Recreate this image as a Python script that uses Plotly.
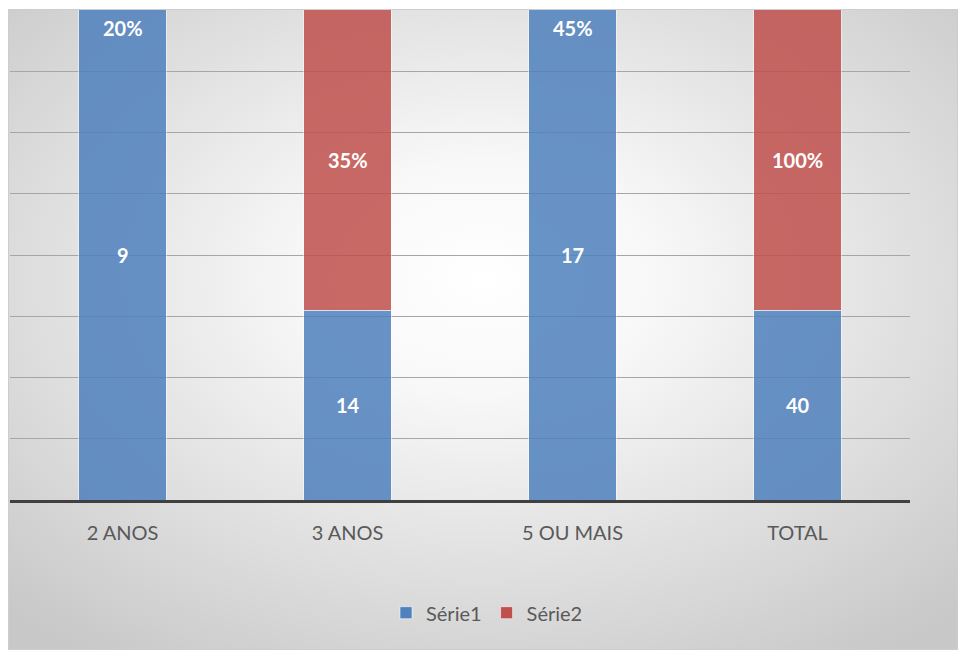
import base64
import plotly.graph_objects as go

# Categories and the labels printed on each segment
categories = ["2 ANOS", "3 ANOS", "5 OU MAIS", "TOTAL"]
serie1_labels = ["9", "14", "17", "40"]
serie2_labels = ["20%", "35%", "45%", "100%"]

# Segment heights on the value axis (axis shows 0..8 grid units)
serie1_height = [8.6, 3.1, 8.6, 3.1]
serie2_height = [1.0, 5.6, 1.0, 5.6]

Y_MAX = 8
LABEL_PAD = 0.3

BLUE = "#4F81BD"
RED = "#C0504D"
FONT = "Lato, 'Open Sans', sans-serif"


def label_positions(bottoms, heights):
    """Centre of the visible part of each segment; clipped segments sit just under the top."""
    out = []
    for b, h in zip(bottoms, heights):
        top = b + h
        if b >= Y_MAX:
            out.append(Y_MAX - LABEL_PAD)
        else:
            out.append((b + min(top, Y_MAX)) / 2)
    return out


zeros = [0] * len(categories)
serie1_label_y = label_positions(zeros, serie1_height)
serie2_label_y = label_positions(serie1_height, serie2_height)

# Radial grey background of the chart area
svg = """<svg xmlns='http://www.w3.org/2000/svg' width='950' height='641' preserveAspectRatio='none' viewBox='0 0 950 641'>
<defs><radialGradient id='g' cx='50%' cy='42%' r='72%' fx='50%' fy='42%'>
<stop offset='0' stop-color='rgb(255,255,255)'/>
<stop offset='0.25' stop-color='rgb(248,248,248)'/>
<stop offset='1' stop-color='rgb(200,200,200)'/>
</radialGradient></defs>
<rect x='0' y='0' width='950' height='641' fill='url(#g)'/>
<rect x='0.5' y='0.5' width='949' height='640' fill='none' stroke='rgb(205,205,205)' stroke-width='1'/>
</svg>"""
bg_src = "data:image/svg+xml;base64," + base64.b64encode(svg.encode()).decode()

fig = go.Figure()

bar_line = dict(color="rgba(255,255,255,0.55)", width=1)
fig.add_trace(go.Bar(
    x=categories, y=serie1_height, name="Série1",
    marker=dict(color=BLUE, opacity=0.85, line=bar_line),
))
fig.add_trace(go.Bar(
    x=categories, y=serie2_height, name="Série2",
    marker=dict(color=RED, opacity=0.85, line=bar_line),
))

label_font = dict(family=FONT, size=20, color="white", weight="bold")
for xs, ys, texts in ((categories, serie1_label_y, serie1_labels),
                      (categories, serie2_label_y, serie2_labels)):
    for cx, cy, t in zip(xs, ys, texts):
        fig.add_annotation(x=cx, y=cy, text=t, showarrow=False, font=label_font)

# plot area: x 10..910 px, y 10..500 px
fig.add_layout_image(dict(
    source=bg_src, xref="paper", yref="paper",
    x=-2 / 900, y=491 / 490, sizex=950 / 900, sizey=641 / 490,
    xanchor="left", yanchor="top", sizing="stretch", layer="below",
))

fig.update_layout(
    width=958, height=650,
    margin=dict(l=10, r=48, t=10, b=150),
    paper_bgcolor="white", plot_bgcolor="rgba(0,0,0,0)",
    barmode="stack", bargap=0.61,
    font=dict(family=FONT, color="#595959", size=20),
    legend=dict(
        orientation="h", x=0.53, xanchor="center", y=-0.23, yanchor="middle",
        font=dict(size=20, color="#595959"), bgcolor="rgba(0,0,0,0)",
        itemwidth=30, traceorder="normal",
    ),
    showlegend=True,
)
fig.update_xaxes(
    showline=True, linecolor="#404040", linewidth=3,
    showgrid=False, ticks="", ticklabelstandoff=13,
    tickfont=dict(size=20, color="#595959"),
)
fig.update_yaxes(
    range=[0, Y_MAX], dtick=1, showgrid=True, gridcolor="#a6a6a6", gridwidth=1.3,
    zeroline=False, showticklabels=False, ticks="",
)

fig.write_html("out.html")
